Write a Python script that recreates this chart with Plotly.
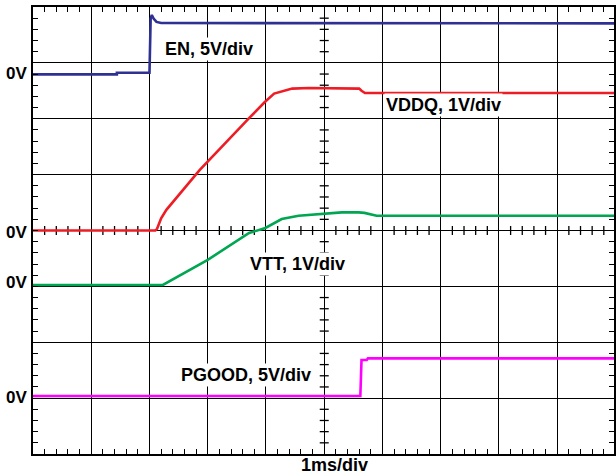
import plotly.graph_objects as go

# ---------------- data ----------------
# time in ms, voltages in volts
en_time = [0, 1.44, 1.44, 2.00, 2.02, 2.04, 2.07, 2.12, 2.20, 10.0]
en_volts = [-0.09, -0.09, 0.05, 0.05, 4.90, 5.22, 4.90, 4.60, 4.50, 4.47]

vddq_time = [0, 2.10, 2.13, 2.20, 2.29, 2.86, 3.71, 3.98, 4.14, 4.28, 4.45, 4.74, 5.60, 5.64, 5.70, 10.0]
vddq_volts = [0, 0, 0.03, 0.22, 0.37, 1.08, 2.01, 2.30, 2.45, 2.49, 2.54, 2.55, 2.54, 2.50, 2.46, 2.46]

vtt_time = [0, 2.23, 3.00, 3.71, 3.99, 4.27, 4.56, 4.99, 5.30, 5.59, 5.69, 5.90, 10.0]
vtt_volts = [0, 0, 0.45, 0.93, 1.02, 1.18, 1.24, 1.27, 1.30, 1.30, 1.29, 1.24, 1.24]

pgood_time = [0, 5.62, 5.64, 5.73, 5.75, 10.0]
pgood_volts = [0, 0, 3.22, 3.22, 3.37, 3.37]

channel_names = ["EN", "VDDQ", "VTT", "PGOOD"]
channel_labels = ["EN, 5V/div", "VDDQ, 1V/div", "VTT, 1V/div", "PGOOD, 5V/div"]
volts_per_div = [5, 1, 1, 5]
time_label = "1ms/div"
zero_label = "0V"

# ---------------- scope settings ----------------
zero_offset_div = [2.813, 0.0, -0.975, -2.962]
colors = ["#2E3192", "#EE1C25", "#00A651", "#FF00FF"]
series = [(en_time, en_volts), (vddq_time, vddq_volts), (vtt_time, vtt_volts), (pgood_time, pgood_volts)]

FONT = "Liberation Sans, Arial, Helvetica, sans-serif"

fig = go.Figure()
for (t, v), name, off, vpd, col in zip(series, channel_names, zero_offset_div, volts_per_div, colors):
    fig.add_trace(go.Scatter(
        x=t, y=[off + val / vpd for val in v], mode="lines", name=name,
        line=dict(color=col, width=2.6), hoverinfo="skip", showlegend=False,
    ))

# center graticule minor ticks
shapes = []
for k in range(-20, 21):
    if k % 5:
        shapes.append(dict(type="line", xref="x", yref="y", xsizemode="pixel", xanchor=5,
                           x0=-4.5, x1=4.5, y0=k * 0.2, y1=k * 0.2,
                           line=dict(color="black", width=1.3), layer="between"))
for k in range(1, 50):
    if k % 5:
        shapes.append(dict(type="line", xref="x", yref="y", ysizemode="pixel", yanchor=0,
                           y0=-4.5, y1=4.5, x0=k * 0.2, x1=k * 0.2,
                           line=dict(color="black", width=1.3), layer="between"))

annotations = []
# channel labels inside the graticule
label_pos = [(3.03, 3.25), (7.05, 2.24), (4.54, -0.60), (3.66, -2.59)]
for txt, (lx, ly) in zip(channel_labels, label_pos):
    annotations.append(dict(x=lx, y=ly, xref="x", yref="y", text=txt, showarrow=False,
                            font=dict(family=FONT, size=18, color="black", weight="bold"),
                            bgcolor="white", borderpad=1, xanchor="center", yanchor="middle"))
# 0V markers on the left
zero_shift = [0, -2, 2.5, -1.5]
for off, ys in zip(zero_offset_div, zero_shift):
    annotations.append(dict(x=0, y=off, xref="paper", yref="y", text=zero_label, showarrow=False,
                            font=dict(family=FONT, size=17, color="black", weight="bold"),
                            xanchor="right", yanchor="middle", xshift=-4, yshift=ys))
annotations.append(dict(x=5.18, y=0, xref="x", yref="paper", text=time_label, showarrow=False,
                        font=dict(family=FONT, size=18, color="black", weight="bold"),
                        borderpad=0, borderwidth=0,
                        xanchor="center", yanchor="top", yshift=-1))

axis_common = dict(
    showgrid=True, gridcolor="black", gridwidth=1.4, dtick=1, tick0=0,
    showticklabels=False, zeroline=False,
    showline=True, linecolor="black", linewidth=2, mirror="ticks",
    ticks="inside", ticklen=5, tickcolor="black", tickwidth=1.3,
    minor=dict(dtick=0.2, ticks="inside", ticklen=5, tickcolor="black", tickwidth=1.3, showgrid=False),
    fixedrange=True,
)

fig.update_layout(
    width=616, height=475,
    margin=dict(l=33, r=0, t=7, b=21),
    paper_bgcolor="white", plot_bgcolor="white",
    xaxis=dict(range=[0, 9.975], **axis_common),
    yaxis=dict(range=[-4, 4], **axis_common),
    shapes=shapes, annotations=annotations,
    showlegend=False,
)

fig.write_html("out.html")
